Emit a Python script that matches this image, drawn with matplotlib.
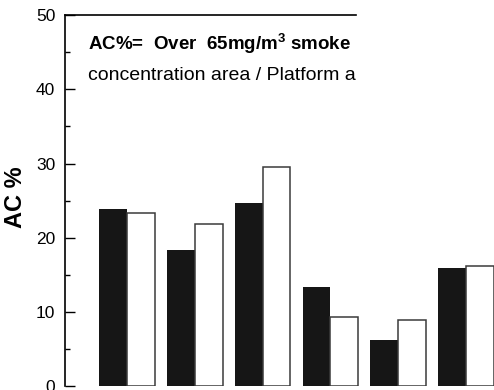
import numpy as np
import matplotlib
matplotlib.use('Agg')
import matplotlib.pyplot as plt
from matplotlib.ticker import MultipleLocator

plt.rcParams['font.family'] = ['Liberation Sans', 'DejaVu Sans']
plt.rcParams['mathtext.fontset'] = 'custom'
plt.rcParams['mathtext.rm'] = 'Liberation Sans'
plt.rcParams['mathtext.bf'] = 'Liberation Sans:bold'

# AC% per platform: dark bars and open bars
groups = ['1', '2', '3', '4', '5', '6']
dark_vals = [23.9, 18.4, 24.7, 13.4, 6.2, 15.9]
open_vals = [23.4, 21.9, 29.5, 9.4, 8.9, 16.2]
y_ticks = [0, 10, 20, 30, 40, 50]

fig = plt.figure(figsize=(4.94, 3.9), dpi=100)
ax = fig.add_axes([0.1316, 0.009, 0.8684, 0.9526])

x = np.arange(len(groups))
w = 0.41
ax.bar(x - w / 2, dark_vals, w, color='#161616', edgecolor='none')
ax.bar(x + w / 2, open_vals, w, color='white', edgecolor='#3a3a3a', linewidth=1.1)

ax.set_xlim(-0.914, 5.413)
ax.set_ylim(0, 50)
ax.set_yticks(y_ticks)
ax.yaxis.set_minor_locator(MultipleLocator(5))
ax.tick_params(axis='y', which='major', direction='in', length=7.5, width=1.0,
               labelsize=12.5, pad=7)
ax.tick_params(axis='y', which='minor', direction='in', length=3.8, width=1.0)
ax.set_xticks([])

ax.spines['right'].set_visible(False)
ax.spines['bottom'].set_visible(False)
ax.spines['top'].set_bounds(-0.914, 3.38)
ax.spines['top'].set_linewidth(1.2)
ax.spines['left'].set_linewidth(1.2)

ax.set_ylabel('AC %', fontsize=17, fontweight='bold')
ax.yaxis.set_label_coords(-0.088, 0.51)

ax.text(0.053, 0.905, r'AC%=  Over  65mg/m$^{\mathbf{3}}$ smoke', transform=ax.transAxes,
        fontsize=13.5, fontweight='bold', ha='left', va='baseline')
ax.text(0.053, 0.825, 'concentration area / Platform a', transform=ax.transAxes,
        fontsize=14, ha='left', va='baseline')

fig.savefig('out.png', dpi=100)
